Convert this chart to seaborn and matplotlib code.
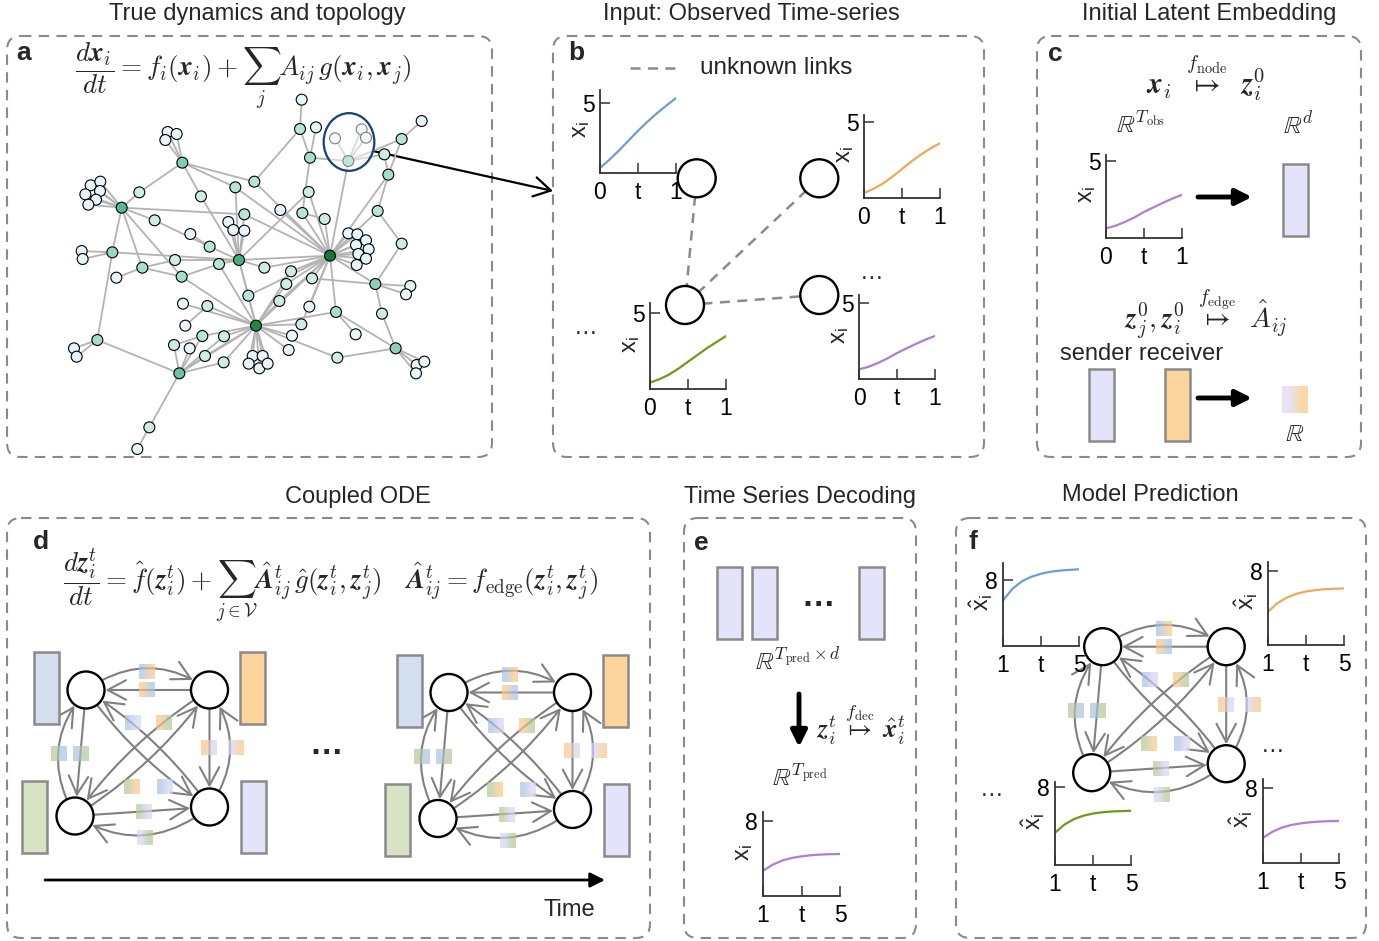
import numpy as np
import matplotlib
matplotlib.use("Agg")
import matplotlib.pyplot as plt
import seaborn as sns
from matplotlib.patches import FancyBboxPatch, Ellipse, Circle, Rectangle, FancyArrowPatch
from matplotlib.collections import LineCollection
from matplotlib.colors import ListedColormap, PowerNorm, to_rgba

sns.set_theme(style="white")
plt.rcParams['font.family'] = ['Liberation Sans', 'DejaVu Sans']
plt.rcParams['mathtext.fontset'] = 'cm'

# ---------------------------------------------------------------- data
# network layout (layout units) and links for the true topology
node_x = [990, 768, 717, 365, 547, 1126, 1187, 538, 292, 337, 427, 545, 629, 733, 763, 930, 900, 907,
          1008, 745, 838, 859, 873, 607, 1205, 1045, 905, 948, 1005, 1085, 1098, 1265, 1153, 1165,
          503, 530, 496, 272, 301, 300, 256, 288, 265, 418, 603, 706, 926, 841, 974, 1133, 464, 571,
          685, 700, 733, 1045, 1072, 1098, 1068, 1106, 1075, 1098, 1070, 1205, 245, 248, 349, 525,
          657, 793, 936, 1231, 1218, 549, 622, 928, 1146, 556, 672, 522, 569, 615, 671, 758, 788,
          746, 778, 803, 866, 876, 904, 1067, 1012, 1250, 1273, 1248, 222, 230, 448, 412]
node_y = [677, 887, 690, 533, 398, 762, 955, 1030, 930, 667, 713, 740, 650, 553, 455, 383, 297, 549,
          846, 797, 813, 762, 724, 918, 327, 393, 209, 292, 325, 298, 323, 273, 373, 434,
          306, 312, 330, 466, 455, 483, 493, 509, 524, 487, 499, 472, 486, 540, 567, 543, 571, 612,
          576, 600, 602, 610, 613, 631, 645, 658, 672, 686, 705, 641, 663, 687, 743, 690,
          702, 713, 745, 768, 793, 821, 828, 830, 851, 887, 919, 945, 955, 978, 997, 978, 978,
          1001, 1015, 1001, 960, 917, 883, 913, 983, 1005, 995, 1030, 955, 980, 1192, 1257]
links = [
    (0, 55), (0, 56), (0, 57), (0, 58), (0, 59), (0, 60), (0, 61), (0, 62), (0, 25), (0, 47),
    (0, 48), (0, 14), (0, 13), (0, 45), (0, 2), (0, 22), (0, 69), (0, 70), (0, 5), (0, 18),
    (0, 21), (0, 1), (0, 20), (0, 19), (0, 49), (0, 17), (0, 33), (0, 75), (0, 90), (0, 46),
    (1, 83), (1, 84), (1, 85), (1, 86), (1, 87), (1, 19), (1, 20), (1, 21), (1, 22), (1, 23),
    (1, 78), (1, 74), (1, 73), (1, 88), (1, 89), (1, 90), (1, 18), (1, 7), (1, 81), (1, 82),
    (1, 11), (1, 2), (1, 68), (1, 92),
    (2, 52), (2, 53), (2, 54), (2, 13), (2, 12), (2, 67), (2, 9), (2, 68), (2, 69), (2, 45),
    (2, 44), (2, 46), (2, 19),
    (3, 37), (3, 38), (3, 39), (3, 40), (3, 41), (3, 42), (3, 43), (3, 50), (3, 13), (3, 9),
    (3, 10), (3, 11),
    (43, 4), (4, 34), (4, 35), (4, 36), (4, 14), (4, 44), (4, 45),
    (9, 64), (9, 65), (9, 8), (10, 66), (10, 67), (10, 11), (11, 68), (12, 50), (12, 51),
    (8, 96), (8, 97), (8, 7), (7, 98), (98, 99), (7, 79), (7, 80), (7, 81), (7, 23), (7, 78),
    (7, 82), (79, 23), (77, 74), (14, 16), (16, 26), (16, 15), (27, 15), (15, 25), (15, 17),
    (25, 28), (25, 29), (25, 30), (25, 32), (25, 24), (24, 31), (24, 33), (32, 33),
    (49, 33), (49, 63), (63, 5), (5, 71), (5, 72), (5, 76), (5, 70),
    (6, 93), (6, 94), (6, 95), (6, 76), (6, 92), (6, 18), (18, 91), (17, 48),
]

# observed trajectories, t in [0, 1]
t_obs = [0, 0.125, 0.25, 0.375, 0.5, 0.625, 0.75, 0.875, 1.0]
obs_blue = [0.36, 0.95, 1.6, 2.3, 3.0, 3.65, 4.25, 4.8, 5.33]
obs_orange = [0.33, 0.6, 0.95, 1.4, 1.9, 2.4, 2.85, 3.25, 3.59]
obs_green = [0.42, 0.65, 0.95, 1.35, 1.8, 2.25, 2.7, 3.1, 3.5]
obs_purple = [0.63, 0.8, 1.05, 1.35, 1.7, 2.0, 2.3, 2.58, 2.82]

# predicted trajectories, t in [1, 5]
t_pred = [1, 1.5, 2, 2.5, 3, 3.5, 4, 4.5, 5]
pred_blue = [5.5, 6.9, 7.8, 8.35, 8.7, 8.95, 9.08, 9.17, 9.24]
pred_orange = [3.6, 4.55, 5.15, 5.55, 5.8, 5.95, 6.05, 6.1, 6.13]
pred_green = [3.3, 4.15, 4.7, 5.05, 5.27, 5.4, 5.48, 5.52, 5.55]
pred_purple = [2.7, 3.35, 3.8, 4.08, 4.25, 4.37, 4.44, 4.48, 4.5]

obs_ticklabels = ['0', 't', '1']
pred_ticklabels = ['1', 't', '5']

panel_titles = ['True dynamics and topology', 'Input: Observed Time-series', 'Initial Latent Embedding',
                'Coupled ODE', 'Time Series Decoding', 'Model Prediction']

# ---------------------------------------------------------------- style
LINE = {'blue': '#6a9fd3', 'orange': '#f0a955', 'green': '#6f9a16', 'purple': '#b07fcf'}
RECT = {'blue': '#d3dfee', 'orange': '#fdd49c', 'green': '#d8e2c5', 'lav': '#e3e3fa'}
SQ = {'blue': '#a9c2e4', 'orange': '#f8c68a', 'green': '#b5c898', 'lav': '#d6d4f6'}
GRAY = '#8a8a8a'
TXT = 17

W, H = 1379, 941
fig = plt.figure(figsize=(W / 100, H / 100), dpi=100)
ax = fig.add_axes([0, 0, 1, 1])
ax.axis('off')


def panel_box(x0, y0, x1, y1):
    ax.add_patch(FancyBboxPatch((x0, y0), x1 - x0, y1 - y0,
                                boxstyle="round,pad=0,rounding_size=14",
                                fill=False, ec=GRAY, lw=1.5, ls=(0, (5, 3.5))))


def label(x, y, s):
    ax.text(x, y, s, fontsize=19, fontweight='bold', ha='center', va='center')


def mini(box, t, v, color, ymax, ytick, ticklabels, ylab):
    left, top, right, bottom = box
    a = fig.add_axes([left / W, 1 - bottom / H, (right - left) / W, (bottom - top) / H])
    a.patch.set_alpha(0)
    sns.lineplot(x=t, y=v, ax=a, color=color, linewidth=1.6)
    a.set_xlim(t[0], t[-1])
    a.set_ylim(0, ymax)
    for s in ['top', 'right']:
        a.spines[s].set_visible(False)
    for s in ['left', 'bottom']:
        a.spines[s].set_color('#333333')
        a.spines[s].set_linewidth(1.3)
    a.set_yticks([ytick])
    a.set_yticklabels([str(ytick)])
    a.set_xticks([t[0], (t[0] + t[-1]) / 2, t[-1]])
    a.set_xticklabels(ticklabels)
    a.tick_params(direction='in', length=7, width=1.1, colors='#333333', labelcolor='black',
                  labelsize=16.5, pad=4, bottom=True, left=True)
    a.tick_params(axis='x', pad=6)
    a.set_xlabel('')
    a.set_ylabel(ylab, fontsize=17, rotation=90)
    a.yaxis.set_label_coords(-0.1, 0.52)
    return a


def node(x, y, r=18.5):
    ax.add_patch(Circle((x, y), r, fc='white', ec='black', lw=1.7, zorder=4))


def vec(x, y, color, w=25, h=72):
    ax.add_patch(Rectangle((x, y), w, h, fc=color, ec=GRAY, lw=1.8, zorder=2))


def grad_square(cx, cy, c1, c2, w=16, h=15, alpha=0.7):
    img = np.array([[to_rgba(c1, alpha), to_rgba(c2, alpha)]])
    ax.imshow(img, extent=(cx - w / 2, cx + w / 2, cy + h / 2, cy - h / 2),
              interpolation='bilinear', aspect='auto', zorder=3)


def big_arrow(p0, p1, lw=3.5, ms=24):
    ax.add_patch(FancyArrowPatch(p0, p1, arrowstyle='-|>', mutation_scale=ms, lw=lw,
                                 color='black', shrinkA=0, shrinkB=0, zorder=5))


# four-node latent graph with directed edges and edge-weight squares
graph_nodes = [(0, 0), (123.5, 0), (-11, 126), (123.5, 117)]  # TL, TR, BL, BR
graph_edges = [(0, 1, -0.35), (1, 0, 0.0), (0, 2, 0.0), (2, 0, -0.35), (1, 3, 0.0), (3, 1, 0.35),
               (2, 3, 0.0), (3, 2, -0.35), (0, 3, 0.1), (3, 0, 0.1), (1, 2, 0.1), (2, 1, 0.1)]
graph_squares = [(61, -18, 'blue', 'orange'), (61, 0, 'orange', 'blue'),
                 (-27, 64, 'green', 'blue'), (-5, 64, 'blue', 'green'),
                 (47, 33, 'blue', 'lav'), (78, 33, 'orange', 'green'),
                 (46, 97, 'green', 'orange'), (79, 97, 'blue', 'lav'),
                 (123, 58, 'orange', 'lav'), (150, 58, 'lav', 'orange'),
                 (58, 122, 'green', 'lav'), (59, 148, 'lav', 'green')]
graph_vectors = [(-52, -38, 'blue'), (154, -38, 'orange'), (-64, 91, 'green'), (155, 91, 'lav')]


def latent_graph(x0, y0, vectors=True):
    pts = [(x0 + dx, y0 + dy) for dx, dy in graph_nodes]
    for s, d, rad in graph_edges:
        ax.add_patch(FancyArrowPatch(pts[s], pts[d], connectionstyle=f'arc3,rad={rad}',
                                     arrowstyle='->,head_length=0.6,head_width=0.32',
                                     mutation_scale=22, lw=1.5, color='#808080',
                                     shrinkA=14, shrinkB=14, zorder=2))
    for dx, dy, c1, c2 in graph_squares:
        grad_square(x0 + dx, y0 + dy, SQ[c1], SQ[c2])
    for x, y in pts:
        node(x, y)
    if vectors:
        for dx, dy, c in graph_vectors:
            vec(x0 + dx, y0 + dy, RECT[c])


# ---------------------------------------------------------------- panel frames and titles
boxes = [(7, 36, 492, 457), (553, 36, 984, 457), (1037, 36, 1361, 457),
         (7, 518, 650, 938), (684, 518, 916, 938), (956, 518, 1366, 938)]
title_pos = [(257, 14), (751, 14), (1209, 14), (358, 497), (800, 497), (1150, 495)]
for b, tt, (tx, ty) in zip(boxes, panel_titles, title_pos):
    panel_box(*b)
    ax.text(tx, ty, tt, fontsize=TXT, ha='center', va='center')
for (lx, ly), s in zip([(24, 53), (576, 53), (1055, 54), (41, 542), (701, 543), (973, 542)], 'abcdef'):
    label(lx, ly, s)

# ---------------------------------------------------------------- panel a
ax.text(243, 76, r'$\dfrac{d\boldsymbol{x}_i}{dt} = f_i(\boldsymbol{x}_i) + \sum_j A_{ij}\, g(\boldsymbol{x}_i, \boldsymbol{x}_j)$',
        fontsize=19.5, ha='center', va='center')

net = fig.add_axes([0, 1 - 460 / H, 495 / W, 430 / H])
net.set_xlim(0, 1485)
net.set_ylim(1290, 0)
net.axis('off')
nx, ny = np.array(node_x), np.array(node_y)
deg = np.zeros(len(nx))
for i, j in links:
    deg[i] += 1
    deg[j] += 1
segs = [[(nx[i], ny[i]), (nx[j], ny[j])] for i, j in links]
net.add_collection(LineCollection(segs, colors='#b3b3b3', linewidths=1.3, zorder=1))
base = sns.color_palette("BuGn", as_cmap=True)
node_cmap = ListedColormap(base(np.linspace(0.12, 0.82, 256)))
sns.scatterplot(x=nx, y=ny, hue=deg, palette=node_cmap, hue_norm=PowerNorm(0.5, vmin=1, vmax=deg.max()),
                s=62, edgecolor='black', linewidth=0.8, legend=False, ax=net, zorder=3)
net.set_xlim(0, 1485)
net.set_ylim(1290, 0)
net.set_xlabel('')
net.set_ylabel('')
net.add_patch(Ellipse((1047, 336), 150, 170, fc='white', ec='none', alpha=0.5, zorder=4))
net.add_patch(Ellipse((1047, 336), 152, 173, fill=False, ec='#173f7e', lw=1.6, zorder=5))

ax.add_patch(FancyArrowPatch((373, 151), (553, 191), arrowstyle='->,head_length=0.6,head_width=0.35',
                             mutation_scale=20, lw=1.6, color='black', shrinkA=0, shrinkB=0, zorder=5))

# ---------------------------------------------------------------- panel b
ax.plot([630, 680], [68, 68], ls=(0, (4, 3)), color=GRAY, lw=1.8)
ax.text(700, 68, 'unknown links', fontsize=17.5, ha='left', va='center')
b_nodes = [(696.7, 178.3), (819.3, 178.3), (685, 305), (819.3, 295)]
for i, j in [(0, 2), (1, 2), (2, 3)]:
    ax.plot([b_nodes[i][0], b_nodes[j][0]], [b_nodes[i][1], b_nodes[j][1]],
            ls=(0, (4, 3)), color=GRAY, lw=1.8, zorder=1)
for x, y in b_nodes:
    node(x, y, 19)
xi = r'$\mathregular{x_i}$'
mini((600, 90, 676, 173), t_obs, obs_blue, LINE['blue'], 5.9, 5, obs_ticklabels, xi)
mini((864, 115, 940, 198), t_obs, obs_orange, LINE['orange'], 5.44, 5, obs_ticklabels, xi)
mini((650, 303, 726, 389), t_obs, obs_green, LINE['green'], 5.68, 5, obs_ticklabels, xi)
mini((859, 295, 935, 379), t_obs, obs_purple, LINE['purple'], 5.5, 5, obs_ticklabels, xi)
ax.text(586, 328, '…', fontsize=17, ha='center', va='center')
ax.text(872, 273, '…', fontsize=17, ha='center', va='center')

# ---------------------------------------------------------------- panel c
ax.text(1206, 78, r'$\boldsymbol{x}_i \;\; \overset{f_{\rm node}}{\mapsto} \;\; \boldsymbol{z}_i^0$',
        fontsize=21, ha='center', va='center')
ax.text(1141, 125, r'$\mathbb{R}^{T_{\rm obs}}$', fontsize=18, ha='center', va='center')
ax.text(1298, 125, r'$\mathbb{R}^{d}$', fontsize=18, ha='center', va='center')
mini((1106, 155, 1182, 238), t_obs, obs_purple, LINE['purple'], 5.42, 5, obs_ticklabels, xi)
big_arrow((1198, 197), (1252, 197))
vec(1283, 164, RECT['lav'], 25, 72)
ax.text(1206, 315, r'$\boldsymbol{z}_j^0, \boldsymbol{z}_i^0 \;\; \overset{f_{\rm edge}}{\mapsto} \;\; \hat{A}_{ij}$',
        fontsize=20, ha='center', va='center')
ax.text(1060, 354, 'sender receiver', fontsize=TXT, ha='left', va='center')
vec(1089, 369, RECT['lav'], 25, 72)
vec(1165, 369, RECT['orange'], 25, 72)
big_arrow((1198, 398), (1252, 398))
grad_square(1295, 399.5, '#e6e3f8', '#fcd8a8', w=26, h=27, alpha=1.0)
ax.text(1295, 434, r'$\mathbb{R}$', fontsize=18, ha='center', va='center')

# ---------------------------------------------------------------- panel d
ax.text(331, 585, r'$\dfrac{d\boldsymbol{z}_i^t}{dt} = \hat{f}(\boldsymbol{z}_i^t) + \sum_{j\in\mathcal{V}} \hat{\boldsymbol{A}}_{ij}^t\, \hat{g}(\boldsymbol{z}_i^t, \boldsymbol{z}_j^t) \quad \hat{\boldsymbol{A}}_{ij}^t = f_{\rm edge}(\boldsymbol{z}_i^t, \boldsymbol{z}_j^t)$',
        fontsize=19.5, ha='center', va='center')
latent_graph(86, 690)
latent_graph(449, 692.5)
ax.text(326, 746, '…', fontsize=24, fontweight='bold', ha='center', va='center')
ax.add_patch(FancyArrowPatch((45, 880), (605, 880), arrowstyle='-|>', mutation_scale=22, lw=2,
                             color='black', shrinkA=0, shrinkB=0))
ax.text(569, 910, 'Time', fontsize=TXT, ha='center', va='center')

# ---------------------------------------------------------------- panel e
for x in [717, 752, 859]:
    vec(x, 567, RECT['lav'], 25, 72)
ax.text(818, 597, '…', fontsize=24, fontweight='bold', ha='center', va='center')
ax.text(798, 661, r'$\mathbb{R}^{T_{\rm pred} \times d}$', fontsize=18, ha='center', va='center')
big_arrow((799, 694), (799, 747))
ax.text(861, 724, r'$\boldsymbol{z}_i^t \; \overset{f_{\rm dec}}{\mapsto} \; \hat{\boldsymbol{x}}_i^t$',
        fontsize=19, ha='center', va='center')
ax.text(800, 778, r'$\mathbb{R}^{T_{\rm pred}}$', fontsize=18, ha='center', va='center')
mini((763, 812, 840, 896), t_pred, pred_purple, LINE['purple'], 9.0, 8, pred_ticklabels, xi)

# ---------------------------------------------------------------- panel f
latent_graph(1102.7, 646.7, vectors=False)
xh = r'$\mathregular{\hat{x}_i}$'
mini((1003, 563, 1079, 646), t_pred, pred_blue, LINE['blue'], 10.0, 8, pred_ticklabels, xh)
mini((1268, 562, 1344, 645), t_pred, pred_orange, LINE['orange'], 9.0, 8, pred_ticklabels, xh)
mini((1055, 782, 1131, 865), t_pred, pred_green, LINE['green'], 8.5, 8, pred_ticklabels, xh)
mini((1263, 779, 1339, 863), t_pred, pred_purple, LINE['purple'], 9.0, 8, pred_ticklabels, xh)
ax.text(992, 790, '…', fontsize=17, ha='center', va='center')
ax.text(1273, 746, '…', fontsize=17, ha='center', va='center')

ax.set_xlim(0, W)
ax.set_ylim(H, 0)
fig.savefig('out.png', dpi=100)
